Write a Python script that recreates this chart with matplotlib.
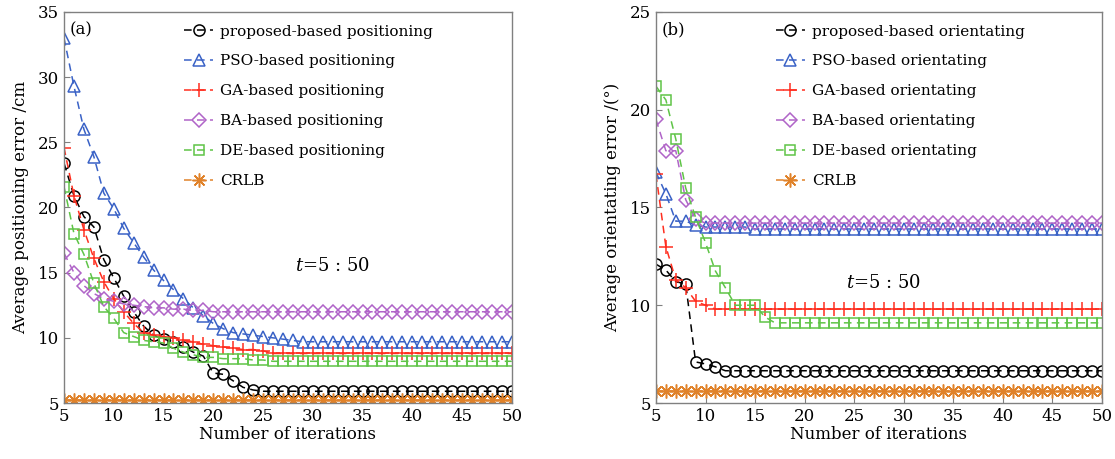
import matplotlib
matplotlib.use('Agg')
import matplotlib.pyplot as plt

# --- DATA ---
iterations = list(range(5, 51))

# (a) positioning error /cm
pos_proposed = [23.4, 20.9, 19.3, 18.5, 16.0, 14.6, 13.2, 12.0, 10.9, 10.2,
                9.9, 9.7, 9.3, 8.9, 8.6, 7.3, 7.2, 6.7, 6.2, 6.0,
                5.9, 5.9, 5.9, 5.9, 5.9, 5.9, 5.9, 5.9, 5.9, 5.9,
                5.9, 5.9, 5.9, 5.9, 5.9, 5.9, 5.9, 5.9, 5.9, 5.9,
                5.9, 5.9, 5.9, 5.9, 5.9, 5.9]
pos_pso = [33.0, 29.3, 26.0, 23.9, 21.1, 19.9, 18.4, 17.3, 16.2, 15.2,
           14.4, 13.7, 13.0, 12.3, 11.7, 11.1, 10.7, 10.4, 10.3, 10.2,
           10.1, 10.0, 9.9, 9.8, 9.7, 9.7, 9.7, 9.7, 9.7, 9.7,
           9.7, 9.7, 9.7, 9.7, 9.7, 9.7, 9.7, 9.7, 9.7, 9.7,
           9.7, 9.7, 9.7, 9.7, 9.7, 9.7]
pos_ga = [24.6, 20.9, 18.3, 16.1, 14.3, 13.0, 12.0, 11.1, 10.4, 10.2,
          10.1, 10.0, 9.8, 9.7, 9.5, 9.4, 9.3, 9.2, 9.1, 9.1,
          9.0, 8.8, 8.8, 8.8, 8.8, 8.8, 8.8, 8.8, 8.8, 8.8,
          8.8, 8.8, 8.8, 8.8, 8.8, 8.8, 8.8, 8.8, 8.8, 8.8,
          8.8, 8.8, 8.8, 8.8, 8.8, 8.8]
pos_ba = [16.5, 15.0, 14.0, 13.4, 13.0, 12.8, 12.6, 12.5, 12.4, 12.3,
          12.3, 12.2, 12.2, 12.1, 12.1, 12.0, 12.0, 12.0, 12.0, 12.0,
          12.0, 12.0, 12.0, 12.0, 12.0, 12.0, 12.0, 12.0, 12.0, 12.0,
          12.0, 12.0, 12.0, 12.0, 12.0, 12.0, 12.0, 12.0, 12.0, 12.0,
          12.0, 12.0, 12.0, 12.0, 12.0, 12.0]
pos_de = [21.6, 18.0, 16.4, 14.2, 12.4, 11.5, 10.4, 10.1, 9.8, 9.7,
          9.6, 9.2, 8.9, 8.7, 8.5, 8.5, 8.4, 8.4, 8.4, 8.3,
          8.3, 8.2, 8.2, 8.2, 8.2, 8.2, 8.2, 8.2, 8.2, 8.2,
          8.2, 8.2, 8.2, 8.2, 8.2, 8.2, 8.2, 8.2, 8.2, 8.2,
          8.2, 8.2, 8.2, 8.2, 8.2, 8.2]
pos_crlb = [5.2, 5.2, 5.2, 5.2, 5.2, 5.2, 5.2, 5.2, 5.2, 5.2,
            5.2, 5.2, 5.2, 5.2, 5.2, 5.2, 5.2, 5.2, 5.2, 5.2,
            5.2, 5.2, 5.2, 5.2, 5.2, 5.2, 5.2, 5.2, 5.2, 5.2,
            5.2, 5.2, 5.2, 5.2, 5.2, 5.2, 5.2, 5.2, 5.2, 5.2,
            5.2, 5.2, 5.2, 5.2, 5.2, 5.2]

# (b) orientating error /deg
ori_proposed = [12.1, 11.8, 11.2, 11.1, 7.1, 7.0, 6.85, 6.65, 6.65, 6.65,
                6.65, 6.65, 6.65, 6.65, 6.65, 6.65, 6.65, 6.65, 6.65, 6.65,
                6.65, 6.65, 6.65, 6.65, 6.65, 6.65, 6.65, 6.65, 6.65, 6.65,
                6.65, 6.65, 6.65, 6.65, 6.65, 6.65, 6.65, 6.65, 6.65, 6.65,
                6.65, 6.65, 6.65, 6.65, 6.65, 6.65]
ori_pso = [16.8, 15.7, 14.3, 14.3, 14.1, 14.0, 14.0, 14.0, 14.0, 14.0,
           13.9, 13.9, 13.9, 13.9, 13.9, 13.9, 13.9, 13.9, 13.9, 13.9,
           13.9, 13.9, 13.9, 13.9, 13.9, 13.9, 13.9, 13.9, 13.9, 13.9,
           13.9, 13.9, 13.9, 13.9, 13.9, 13.9, 13.9, 13.9, 13.9, 13.9,
           13.9, 13.9, 13.9, 13.9, 13.9, 13.9]
ori_ga = [16.7, 13.0, 11.3, 10.9, 10.2, 10.0, 9.8, 9.8, 9.8, 9.8,
          9.8, 9.8, 9.8, 9.8, 9.8, 9.8, 9.8, 9.8, 9.8, 9.8,
          9.8, 9.8, 9.8, 9.8, 9.8, 9.8, 9.8, 9.8, 9.8, 9.8,
          9.8, 9.8, 9.8, 9.8, 9.8, 9.8, 9.8, 9.8, 9.8, 9.8,
          9.8, 9.8, 9.8, 9.8, 9.8, 9.8]
ori_ba = [19.5, 17.9, 17.9, 15.4, 14.4, 14.2, 14.2, 14.2, 14.2, 14.2,
          14.2, 14.2, 14.2, 14.2, 14.2, 14.2, 14.2, 14.2, 14.2, 14.2,
          14.2, 14.2, 14.2, 14.2, 14.2, 14.2, 14.2, 14.2, 14.2, 14.2,
          14.2, 14.2, 14.2, 14.2, 14.2, 14.2, 14.2, 14.2, 14.2, 14.2,
          14.2, 14.2, 14.2, 14.2, 14.2, 14.2]
ori_de = [21.2, 20.5, 18.5, 16.0, 14.5, 13.2, 11.75, 10.9, 10.0, 10.0,
          10.0, 9.4, 9.1, 9.1, 9.1, 9.1, 9.1, 9.1, 9.1, 9.1,
          9.1, 9.1, 9.1, 9.1, 9.1, 9.1, 9.1, 9.1, 9.1, 9.1,
          9.1, 9.1, 9.1, 9.1, 9.1, 9.1, 9.1, 9.1, 9.1, 9.1,
          9.1, 9.1, 9.1, 9.1, 9.1, 9.1]
ori_crlb = [5.6, 5.6, 5.6, 5.6, 5.6, 5.6, 5.6, 5.6, 5.6, 5.6,
            5.6, 5.6, 5.6, 5.6, 5.6, 5.6, 5.6, 5.6, 5.6, 5.6,
            5.6, 5.6, 5.6, 5.6, 5.6, 5.6, 5.6, 5.6, 5.6, 5.6,
            5.6, 5.6, 5.6, 5.6, 5.6, 5.6, 5.6, 5.6, 5.6, 5.6,
            5.6, 5.6, 5.6, 5.6, 5.6, 5.6]

methods = ['proposed', 'PSO', 'GA', 'BA', 'DE']
x_ticks = [5, 10, 15, 20, 25, 30, 35, 40, 45, 50]

# --- STYLE ---
plt.rcParams['font.family'] = 'DejaVu Serif'
plt.rcParams['mathtext.fontset'] = 'dejavuserif'

colors = ['black', '#3a62c6', '#ff2e1f', '#b064c8', '#5fc447', '#e0822a']
markers = ['o', '^', '+', 'D', 's', (8, 2, 0)]
msizes = [8, 9, 10, 7, 7, 10]
dash = (0, (5, 3.5))

fig = plt.figure(figsize=(11.15, 4.59), dpi=100)
ax_a = fig.add_axes([0.0574, 0.122, 0.4016, 0.852])
ax_b = fig.add_axes([0.5883, 0.122, 0.4000, 0.852])

panels = [
    (ax_a, [pos_proposed, pos_pso, pos_ga, pos_ba, pos_de, pos_crlb],
     'positioning', 'Average positioning error /cm', (5, 35),
     [5, 10, 15, 20, 25, 30, 35], '(a)', (28.2, 15.1)),
    (ax_b, [ori_proposed, ori_pso, ori_ga, ori_ba, ori_de, ori_crlb],
     'orientating', 'Average orientating error /(°)', (5, 25),
     [5, 10, 15, 20, 25], '(b)', (24.2, 10.9)),
]

for ax, series, word, ylabel, ylim, yticks, tag, tpos in panels:
    labels = [m + '-based ' + word for m in methods] + ['CRLB']
    for i, ys in enumerate(series):
        ax.plot(iterations, ys, linestyle=dash, color=colors[i], lw=1.1,
                marker=markers[i], markersize=msizes[i], markerfacecolor='none',
                markeredgecolor=colors[i], markeredgewidth=1.1, label=labels[i])
    ax.set_xlim(5, 50)
    ax.set_ylim(*ylim)
    ax.set_xticks(x_ticks)
    ax.set_yticks(yticks)
    ax.tick_params(direction='in', labelsize=12, length=4, color='#808080')
    for s in ax.spines.values():
        s.set_color('#808080')
        s.set_linewidth(1.0)
        s.set_zorder(3)
    ax.set_xlabel('Number of iterations', fontsize=12, labelpad=1)
    ax.set_ylabel(ylabel, fontsize=12, labelpad=6)
    ax.text(0.012, 0.975, tag, transform=ax.transAxes, fontsize=12, va='top')
    ax.text(tpos[0], tpos[1], r'$t$=5 : 50', fontsize=13)
    ax.legend(loc='upper left', bbox_to_anchor=(0.245, 0.995), frameon=False,
              fontsize=11, handlelength=1.9, handletextpad=0.45,
              labelspacing=1.04, borderaxespad=0.3)

fig.savefig('out.png', dpi=100)
